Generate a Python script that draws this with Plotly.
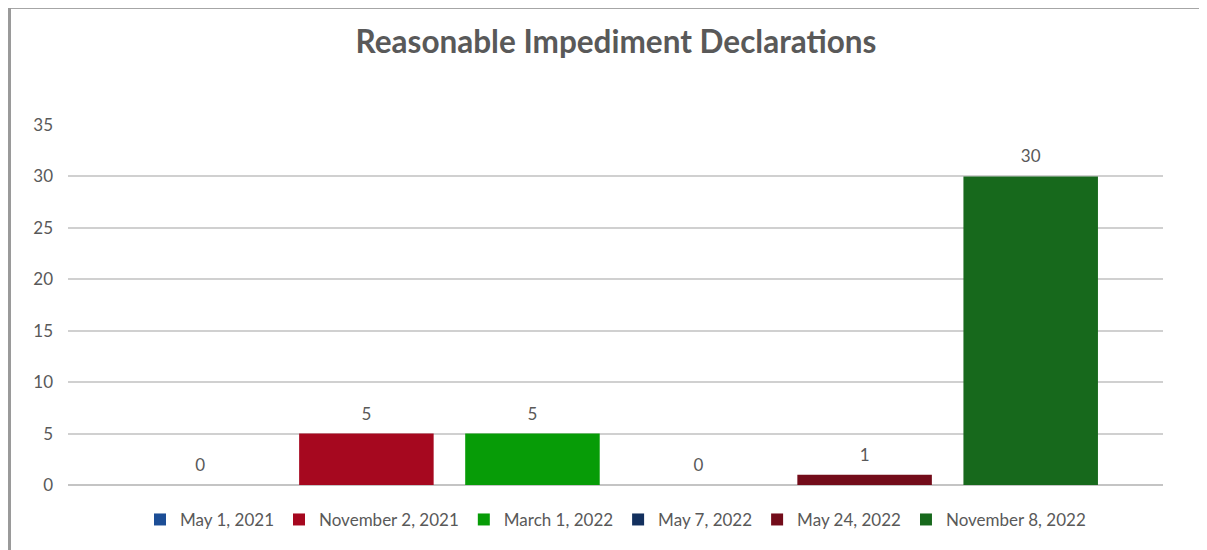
import plotly.graph_objects as go

# ---- data ----
category = ["Declarations"]
dates = ["May 1, 2021", "November 2, 2021", "March 1, 2022",
         "May 7, 2022", "May 24, 2022", "November 8, 2022"]
counts = [0, 5, 5, 0, 1, 30]
colors = ["#1C4E96", "#A6081F", "#079C07", "#13305E", "#730C1A", "#17691C"]

y_ticks = [0, 5, 10, 15, 20, 25, 30, 35]

FONT = "Lato"
GRAY = "#595959"
GAP = 0.09

fig = go.Figure()
for name, val, col in zip(dates, counts, colors):
    fig.add_trace(go.Bar(
        x=category, y=[val], name=name,
        marker=dict(color=col, line=dict(width=0)),
    ))

# value labels: invisible grouped scatter points so the label sits a bit higher
for name, val in zip(dates, counts):
    fig.add_trace(go.Scatter(
        x=category, y=[val], mode="markers+text", text=[str(val)],
        textposition="top center", showlegend=False, hoverinfo="skip",
        marker=dict(size=14, opacity=0), cliponaxis=False,
        textfont=dict(family=FONT, size=17, color=GRAY),
    ))

# page body adds an 8px offset, margins are set to compensate
fig.update_layout(
    width=1207, height=550,
    barmode="group", bargap=GAP, bargroupgap=0.19,
    scattermode="group", scattergap=GAP,
    paper_bgcolor="white", plot_bgcolor="white",
    margin=dict(l=60, r=52, t=117, b=73),
    font=dict(family=FONT, size=17, color=GRAY),
    title=dict(text="<b>Reasonable Impediment Declarations</b>",
               x=(616 - 8) / 1207, xanchor="center", y=1 - 34 / 550,
               yanchor="middle",
               font=dict(family=FONT, size=31.5, color=GRAY)),
    xaxis=dict(showticklabels=False, showgrid=False, zeroline=False,
               showline=False, ticks=""),
    yaxis=dict(range=[0, 35], tickvals=y_ticks, showgrid=True,
               gridcolor="#d0d0d0", gridwidth=1.5, zeroline=True,
               zerolinecolor="#c4c4c4", zerolinewidth=1.5, showline=False,
               ticks="", ticklabelstandoff=14,
               tickfont=dict(family=FONT, size=17, color=GRAY)),
    legend=dict(orientation="h", x=0.5, xanchor="center", y=-0.097,
                yanchor="middle", font=dict(family=FONT, size=17, color=GRAY),
                itemwidth=30, traceorder="normal"),
    showlegend=True,
)

# window-style shadow along the top and left edges
fig.add_shape(type="rect", xref="paper", yref="paper",
              x0=-0.07, x1=1.06, y0=1 + 116 / 360, y1=1.4,
              fillcolor="#a6a6a6", line=dict(width=0), layer="above")
fig.add_shape(type="rect", xref="paper", yref="paper",
              x0=-0.07, x1=-57 / 1095, y0=-0.3, y1=1.4,
              fillcolor="#9a9a9a", line=dict(width=0), layer="above")

fig.write_html("out.html")
